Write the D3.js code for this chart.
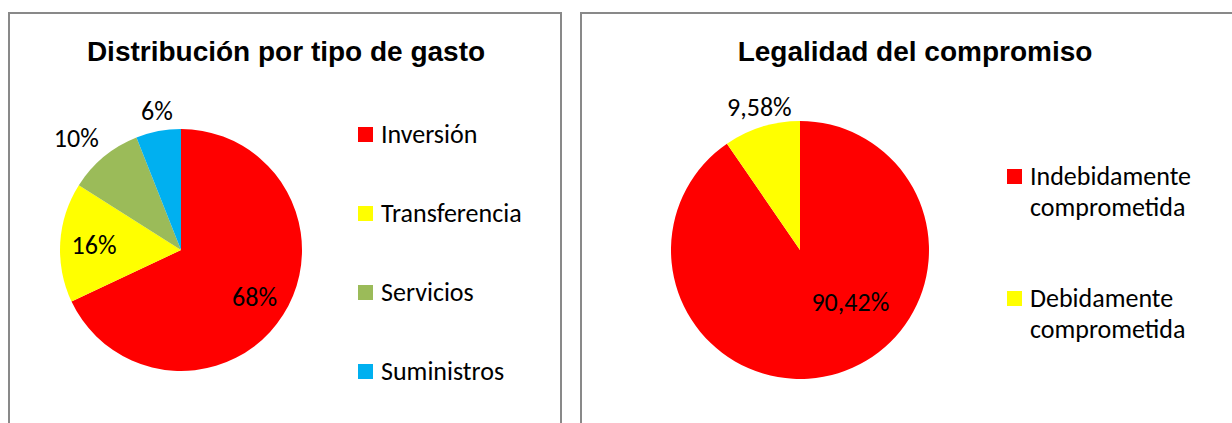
<!DOCTYPE html>
<html>
<head>
<meta charset="utf-8">
<script src="https://cdn.jsdelivr.net/npm/d3@7"></script>
<style>
  html, body { margin: 0; padding: 0; background: #fff; }
  svg { display: block; }
  .lbl { font-family: Carlito, Calibri, Lato, "Open Sans", sans-serif; fill: #000; }
  .ttl { font-family: "Liberation Sans", Arial, sans-serif; font-weight: bold; fill: #000; }
</style>
</head>
<body>
<svg id="chart" width="1232" height="423"></svg>
<script>
// ---- data ----
const title1 = "Distribución por tipo de gasto";
const categories1 = ["Inversión", "Transferencia", "Servicios", "Suministros"];
const values1 = [68, 16, 10, 6];
const labels1 = ["68%", "16%", "10%", "6%"];
const colors1 = ["#FF0000", "#FFFF00", "#9BBB59", "#00B0F0"];

const title2 = "Legalidad del compromiso";
const categories2 = [["Indebidamente", "comprometida"], ["Debidamente", "comprometida"]];
const values2 = [90.42, 9.58];
const labels2 = ["90,42%", "9,58%"];
const colors2 = ["#FF0000", "#FFFF00"];

// ---- layout / style ----
const svg = d3.select("#chart");
const FS_LABEL = 26, FS_LEGEND = 26, FS_TITLE = 28;

function panel(opts) {
  const g = svg.append("g");
  g.append("rect")
    .attr("x", opts.box[0]).attr("y", opts.box[1])
    .attr("width", opts.box[2]).attr("height", opts.box[3])
    .attr("fill", "#fff").attr("stroke", "#898989").attr("stroke-width", 2);
  g.append("text").attr("class", "ttl")
    .attr("x", opts.titleX).attr("y", opts.titleY)
    .attr("text-anchor", "middle").attr("font-size", FS_TITLE)
    .text(opts.title);

  const pie = d3.pie().sort(null).value(d => d)(opts.values);
  const arc = d3.arc().innerRadius(0).outerRadius(opts.r);
  const pg = g.append("g").attr("transform", `translate(${opts.cx},${opts.cy})`);
  pg.selectAll("path").data(pie).join("path")
    .attr("d", arc).attr("fill", (d, i) => opts.colors[i]);

  // data labels (best-fit style)
  pie.forEach((d, i) => {
    const mid = (d.startAngle + d.endAngle) / 2;
    const frac = (d.endAngle - d.startAngle) / (2 * Math.PI);
    const t = pg.append("text").attr("class", "lbl")
      .attr("font-size", FS_LABEL).attr("text-anchor", "middle")
      .attr("dominant-baseline", "central")
      .text(opts.labels[i]);
    let x, y;
    if (frac >= 0.12) {
      const a = mid + (opts.insideShift || 0);
      [x, y] = d3.pointRadial(a, opts.r * opts.insideFrac);
    } else {
      const bb = t.node().getBBox();
      const [ux, uy] = d3.pointRadial(mid, 1);
      const kx = Math.max(0, Math.min(1, (Math.abs(ux) - 0.3) / 0.3));
      x = ux * (opts.r + 8) + Math.sign(ux) * kx * bb.width / 2;
      y = uy * (opts.r + 8) + Math.sign(uy) * bb.height * 0.38;
    }
    t.attr("x", x).attr("y", y);
  });

  // legend
  const lg = g.append("g");
  opts.cats.forEach((c, i) => {
    const y0 = opts.legY + i * opts.legStep;
    lg.append("rect")
      .attr("x", opts.legX).attr("y", y0 - 15)
      .attr("width", 15).attr("height", 15)
      .attr("fill", opts.colors[i]);
    const lines = Array.isArray(c) ? c : [c];
    const tx = lg.append("text").attr("class", "lbl")
      .attr("font-size", FS_LEGEND)
      .attr("x", opts.legX + 23).attr("y", y0 + 1);
    lines.forEach((ln, j) => {
      tx.append("tspan").attr("x", opts.legX + 23)
        .attr("dy", j === 0 ? 0 : 31).text(ln);
    });
  });
}

panel({
  box: [9, 13, 552, 430], title: title1, titleX: 286, titleY: 61,
  values: values1, labels: labels1, colors: colors1, cats: categories1,
  cx: 181, cy: 250, r: 121, insideFrac: 0.72,
  legX: 358, legY: 142, legStep: 79
});

panel({
  box: [581, 13, 670, 430], title: title2, titleX: 915, titleY: 61,
  values: values2, labels: labels2, colors: colors2, cats: categories2,
  cx: 800, cy: 250, r: 129, insideFrac: 0.56, insideShift: -0.47,
  legX: 1007, legY: 184, legStep: 122
});
</script>
</body>
</html>
